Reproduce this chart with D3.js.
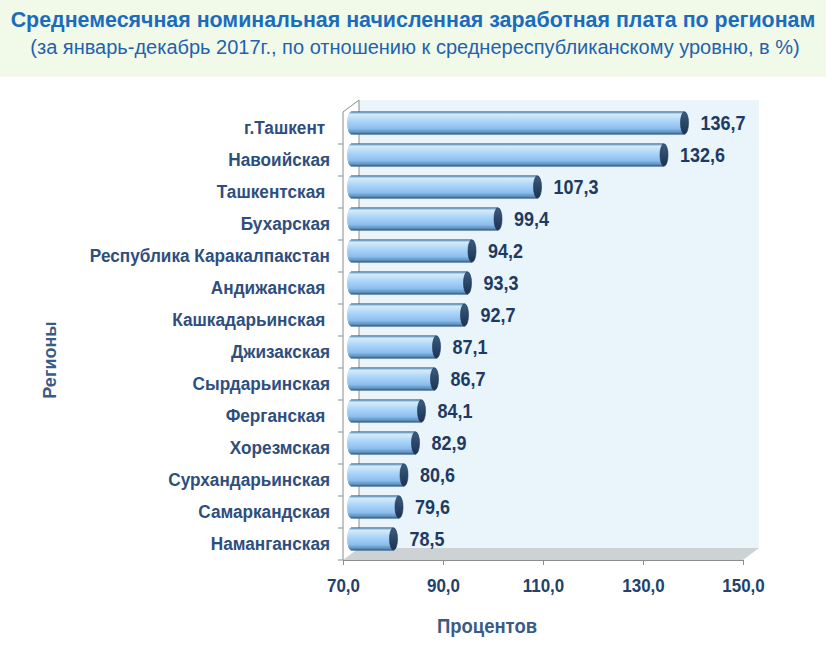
<!DOCTYPE html>
<html>
<head>
<meta charset="utf-8">
<script src="https://cdn.jsdelivr.net/npm/d3@7"></script>
<style>
  body { margin: 0; background: #fff; }
  svg { display: block; font-family: "Liberation Sans", Arial, sans-serif; }
</style>
</head>
<body>
<div id="chart"></div>
<script>
// data
const regions = ['г.Ташкент ', 'Навоийская', 'Ташкентская ', 'Бухарская', 'Республика Каракалпакстан',
  'Андижанская ', 'Кашкадарьинская ', 'Джизакская', 'Сырдарьинская', 'Ферганская ',
  'Хорезмская', 'Сурхандарьинская', 'Самаркандская', 'Наманганская'];
const values = [136.7, 132.6, 107.3, 99.4, 94.2, 93.3, 92.7, 87.1, 86.7, 84.1, 82.9, 80.6, 79.6, 78.5];
const xTicks = [70, 90, 110, 130, 150];

const title = 'Среднемесячная номинальная начисленная заработная плата по регионам';
const subtitle = '(за январь-декабрь 2017г., по отношению к среднереспубликанскому уровню, в %)';

const W = 826, H = 648;
const depth = { dx: 16, dy: -12 };   // 3d wall offset
const mid = { dx: 8, dy: -5 };       // bars sit half way in
const sy = 1.12;                     // labels look a bit stretched up

const fmt = v => d3.format('.1f')(v).replace('.', ',');

const svg = d3.select('#chart').append('svg')
  .attr('width', W).attr('height', H);

const defs = svg.append('defs');
const barGrad = defs.append('linearGradient').attr('id', 'barGrad')
  .attr('x1', 0).attr('y1', 0).attr('x2', 0).attr('y2', 1);
[[0, '#6f9fd0'], [0.12, '#d3ebfd'], [0.4, '#acd6f8'], [0.75, '#8cbeec'], [0.92, '#5f8ebf'], [1, '#3a5f88']]
  .forEach(s => barGrad.append('stop').attr('offset', s[0]).attr('stop-color', s[1]));
const capGrad = defs.append('linearGradient').attr('id', 'capGrad')
  .attr('x1', 0).attr('y1', 0).attr('x2', 0).attr('y2', 1);
[[0, '#3c5c82'], [0.5, '#2b4668'], [1, '#1d3350']]
  .forEach(s => capGrad.append('stop').attr('offset', s[0]).attr('stop-color', s[1]));

// top band
svg.append('rect').attr('x', 0).attr('y', 0).attr('width', W).attr('height', 77).attr('fill', '#f1fae9');

svg.append('text').attr('x', 413).attr('y', 27).attr('text-anchor', 'middle')
  .attr('font-size', 21.4).attr('font-weight', 'bold').attr('fill', '#1c6cbd').text(title);
svg.append('text').attr('x', 415).attr('y', 54).attr('text-anchor', 'middle')
  .attr('font-size', 20).attr('fill', '#1f62ae').text(subtitle);

// scales
const x = d3.scaleLinear().domain([70, 150]).range([343, 743]);
const y = d3.scaleBand().domain(regions).range([112, 560]).paddingInner(0.3).paddingOuter(0.15);

const x0 = x.range()[0], x1 = x.range()[1];
const yTop = y.range()[0], yBot = y.range()[1];

// back wall
svg.append('rect')
  .attr('x', x0 + depth.dx).attr('y', yTop + depth.dy)
  .attr('width', x1 - x0).attr('height', yBot - yTop)
  .attr('fill', '#e9f4fb');
// floor
svg.append('path')
  .attr('d', `M${x0},${yBot}L${x1},${yBot}L${x1 + depth.dx},${yBot + depth.dy}L${x0 + depth.dx},${yBot + depth.dy}Z`)
  .attr('fill', '#cdd2d5');
// side wall edges
svg.append('path')
  .attr('d', `M${x0},${yBot}L${x0},${yTop}L${x0 + depth.dx},${yTop + depth.dy}L${x0 + depth.dx},${yBot + depth.dy}`)
  .attr('fill', 'none').attr('stroke', '#8c8c8c').attr('stroke-width', 1);

// x axis
const xAxis = svg.append('g').attr('transform', `translate(0,${yBot})`)
  .call(d3.axisBottom(x).tickValues(xTicks).tickSize(5).tickFormat(fmt));
xAxis.select('.domain').attr('stroke', '#8c8c8c');
xAxis.selectAll('.tick line').attr('stroke', '#8c8c8c');
xAxis.selectAll('.tick text')
  .attr('y', 25 / sy).attr('dy', '0.35em')
  .attr('transform', `scale(1,${sy})`)
  .attr('font-size', 17).attr('font-weight', 'bold').attr('fill', '#23416c')
  .attr('font-family', '"Liberation Sans", Arial, sans-serif');

// y axis
const yAxis = svg.append('g').attr('transform', `translate(${x0},0)`)
  .call(d3.axisLeft(y).tickSize(0).tickPadding(13));
yAxis.select('.domain').remove();
yAxis.selectAll('.tick text')
  .attr('transform', `scale(1,${sy})`)
  .attr('font-size', 17.2).attr('font-weight', 'bold').attr('fill', '#2e4e7d')
  .attr('font-family', '"Liberation Sans", Arial, sans-serif')
  .style('white-space', 'pre');
// category boundary ticks
svg.append('g').selectAll('line')
  .data(regions.slice(1).concat([null]))
  .join('line')
  .attr('x1', x0 - 5).attr('x2', x0)
  .attr('y1', d => d ? y(d) - y.step() * y.paddingInner() / 2 : yBot)
  .attr('y2', d => d ? y(d) - y.step() * y.paddingInner() / 2 : yBot)
  .attr('stroke', '#8c8c8c');

// bars
const bh = y.bandwidth();
const rx = 4;
const bars = svg.append('g').selectAll('g')
  .data(regions.map((r, i) => ({ r, v: values[i] })))
  .join('g')
  .attr('transform', d => `translate(0,${y(d.r) + mid.dy})`);

bars.append('rect')
  .attr('x', x(70) + mid.dx)
  .attr('y', 0)
  .attr('width', d => x(d.v) - x(70))
  .attr('height', bh)
  .attr('fill', 'url(#barGrad)');
bars.append('ellipse')
  .attr('cx', x(70) + mid.dx).attr('cy', bh / 2)
  .attr('rx', rx).attr('ry', bh / 2)
  .attr('fill', 'url(#barGrad)');
bars.append('path')
  .attr('d', d => `M${x(70) + mid.dx},0L${x(d.v) + mid.dx},0M${x(70) + mid.dx},${bh}L${x(d.v) + mid.dx},${bh}`)
  .attr('stroke', '#3d5f86').attr('stroke-width', 0.8).attr('fill', 'none');
bars.append('ellipse')
  .attr('cx', d => x(d.v) + mid.dx).attr('cy', bh / 2)
  .attr('rx', rx).attr('ry', bh / 2)
  .attr('fill', 'url(#capGrad)').attr('stroke', '#1d3350').attr('stroke-width', 0.6);

// value labels
bars.append('text')
  .attr('transform', d => `translate(${x(d.v) + mid.dx + 16},${bh / 2}) scale(1,${sy})`)
  .attr('dy', '0.36em')
  .attr('font-size', 18).attr('font-weight', 'bold').attr('fill', '#1f3a62')
  .text(d => fmt(d.v));

// axis titles
svg.append('text').attr('transform', `translate(487,626) scale(1,${sy})`).attr('dy', '0.35em')
  .attr('text-anchor', 'middle')
  .attr('font-size', 18.5).attr('font-weight', 'bold').attr('fill', '#3a5b88').text('Процентов');
svg.append('text').attr('transform', 'translate(50,360) rotate(-90)').attr('dy', '0.35em')
  .attr('text-anchor', 'middle')
  .attr('font-size', 18).attr('font-weight', 'bold').attr('fill', '#3a5b88').text('Регионы');
</script>
</body>
</html>
